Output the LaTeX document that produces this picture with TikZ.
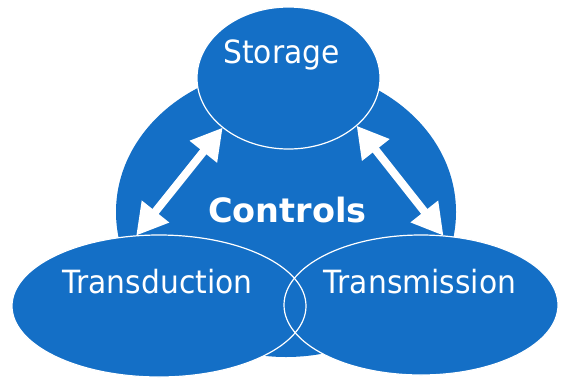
\documentclass[tikz,border=0pt]{standalone}
\usepackage{fontspec}
\setmainfont{DejaVu Sans}
\newfontfamily\lobefont{DejaVu Sans}[FakeStretch=0.93]
\usetikzlibrary{shapes.geometric,arrows.meta}
\definecolor{hubblue}{RGB}{20,111,198}
\begin{document}
\begin{tikzpicture}[x=1pt,y=-1pt,
  blob/.style={ellipse, fill=hubblue, draw=none, inner sep=0pt},
  rim/.style={ellipse, draw=white, line width=1.2pt, inner sep=0pt},
  lbl/.style={text=white, anchor=base, inner sep=0pt,
    font=\lobefont\fontsize{32}{36}\selectfont},
  link/.style={draw=white, line width=8pt,
    {Triangle[length=31pt,width=33pt]}-{Triangle[length=31pt,width=33pt]}},
]
\useasboundingbox (0,0) rectangle (561,381);

% central body and the three lobes
\node[blob, minimum width=340pt, minimum height=290pt] (hub) at (286,212) {};
\node[blob, minimum width=183pt, minimum height=142pt] (storage) at (288.5,78) {};
\node[blob, minimum width=294pt, minimum height=142pt] (tduct) at (159,306) {};
\node[blob, minimum width=274pt, minimum height=140pt] (tmiss) at (421,305) {};

% white outlines, drawn after all fills so overlaps show both edges
\node[rim, minimum width=183pt, minimum height=142pt] (storagerim) at (storage) {};
\node[rim, minimum width=294pt, minimum height=142pt] (tductrim) at (tduct) {};
\node[rim, minimum width=274pt, minimum height=140pt] (tmissrim) at (tmiss) {};

% two-way links
\draw[link] (storage.217) -- (tduct.108);
\draw[link] (storage.325) -- (tmiss.72);

% labels
\node[lbl] (storagetxt) at (281.5,63) {Storage};
\node[lbl] (tducttxt) at (157.5,293) {Transduction};
\node[lbl] (tmisstxt) at (420,293) {Transmission};
\node[lbl, font=\bfseries\fontsize{33.5}{38}\selectfont] (ctrltxt) at (287.5,222) {Controls};
\end{tikzpicture}
\end{document}
